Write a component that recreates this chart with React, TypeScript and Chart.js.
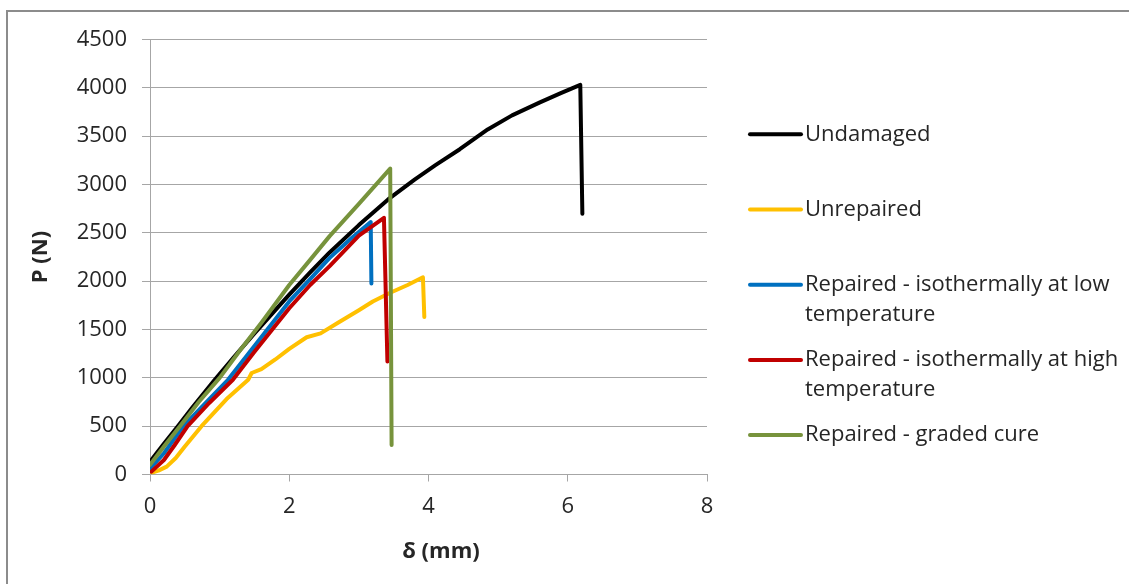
import React, { useEffect, useRef } from "react";
import { Chart, registerables } from "chart.js";

Chart.register(...registerables);

// ---- data (δ in mm, P in N) ----
const seriesLabels = [
  "Undamaged",
  "Unrepaired",
  "Repaired - isothermally at low temperature",
  "Repaired - isothermally at high temperature",
  "Repaired - graded cure",
];
const seriesColors = ["#000000", "#FFC000", "#0070C0", "#C00000", "#77933C"];

const undamagedX = [0, 0.1, 0.2, 0.4, 0.6, 0.93, 1.2, 1.5, 1.8, 2.0, 2.3, 2.58, 3.0, 3.42, 3.8, 4.1, 4.45, 4.85, 5.2, 5.6, 5.9, 6.18, 6.21];
const undamagedP = [130, 225, 318, 500, 685, 980, 1210, 1460, 1700, 1860, 2090, 2297, 2580, 2846, 3050, 3200, 3365, 3570, 3715, 3849, 3945, 4030, 2698];

const unrepairedX = [0.03, 0.12, 0.24, 0.37, 0.5, 0.74, 1.1, 1.41, 1.46, 1.6, 1.8, 2.0, 2.25, 2.45, 2.7, 3.0, 3.2, 3.45, 3.7, 3.92, 3.94];
const unrepairedP = [20, 40, 81, 170, 290, 500, 780, 980, 1050, 1090, 1190, 1300, 1420, 1460, 1570, 1700, 1790, 1880, 1960, 2040, 1630];

const lowTempX = [0, 0.2, 0.48, 0.8, 1.12, 1.5, 2.0, 2.3, 2.58, 2.9, 3.17, 3.18];
const lowTempP = [60, 220, 500, 740, 980, 1330, 1790, 2020, 2241, 2450, 2611, 1975];

const highTempX = [0.02, 0.2, 0.35, 0.54, 0.85, 1.19, 1.5, 2.0, 2.3, 2.58, 3.0, 3.36, 3.41];
const highTempP = [30, 150, 300, 500, 740, 980, 1270, 1720, 1960, 2155, 2470, 2656, 1170];

const gradedX = [0, 0.2, 0.43, 0.7, 1.0, 1.3, 1.6, 2.0, 2.3, 2.58, 3.0, 3.45, 3.47];
const gradedP = [100, 290, 500, 750, 1000, 1290, 1570, 1960, 2220, 2466, 2800, 3165, 306];

const seriesX = [undamagedX, unrepairedX, lowTempX, highTempX, gradedX];
const seriesP = [undamagedP, unrepairedP, lowTempP, highTempP, gradedP];

const xTitle = "δ (mm)";
const yTitle = "P (N)";
const xMin = 0, xMax = 8, xStep = 2;
const yMin = 0, yMax = 4500, yStep = 500;

const FONT = "'Open Sans', 'Liberation Sans', sans-serif";
const TEXT = "#262626";
const GRID = "#a6a6a6";

const legendPlugin = {
  id: "sideLegend",
  afterDraw(chart: any) {
    const ctx = chart.ctx;
    const x0 = 750, x1 = 801, tx = 805, y0 = 134.3, dy = 75.2, lh = 29.7, maxW = 322;
    ctx.save();
    ctx.font = `22px ${FONT}`;
    ctx.textBaseline = "middle";
    ctx.textAlign = "left";
    chart.data.datasets.forEach((ds: any, i: number) => {
      const y = y0 + i * dy;
      ctx.strokeStyle = ds.borderColor;
      ctx.lineWidth = 4;
      ctx.lineCap = "round";
      ctx.beginPath();
      ctx.moveTo(x0, y);
      ctx.lineTo(x1, y);
      ctx.stroke();
      const words = String(ds.label).split(" ");
      const lines: string[] = [];
      let cur = "";
      words.forEach((w) => {
        const t = cur ? cur + " " + w : w;
        if (ctx.measureText(t).width > maxW && cur) {
          lines.push(cur);
          cur = w;
        } else cur = t;
      });
      if (cur) lines.push(cur);
      ctx.fillStyle = TEXT;
      lines.forEach((l, k) => ctx.fillText(l, tx, y + k * lh));
    });
    // x-axis title (offset to the right as in the original)
    ctx.font = `bold 22px ${FONT}`;
    ctx.textAlign = "center";
    ctx.fillText(xTitle, 441, 551.7);
    ctx.restore();
  },
};

export default function App() {
  const ref = useRef<HTMLCanvasElement>(null);
  useEffect(() => {
    if (!ref.current) return;
    const datasets = seriesLabels.map((label, i) => ({
      label,
      data: seriesX[i].map((x, k) => ({ x, y: seriesP[i][k] })),
      borderColor: seriesColors[i],
      backgroundColor: seriesColors[i],
      borderWidth: 4,
      pointRadius: 0,
      tension: 0,
      fill: false,
      borderCapStyle: "round" as const,
      borderJoinStyle: "round" as const,
      order: seriesLabels.length - 1 - i,
    }));
    const chart = new Chart(ref.current, {
      type: "line",
      data: { datasets },
      options: {
        animation: false,
        responsive: true,
        maintainAspectRatio: false,
        layout: { padding: { left: 0, top: 39.5, right: 422, bottom: 0 } },
        plugins: { legend: { display: false }, tooltip: { enabled: false } },
        scales: {
          x: {
            type: "linear",
            min: xMin,
            max: xMax,
            ticks: { stepSize: xStep, color: TEXT, font: { family: FONT, size: 22 }, padding: 12, callback: (v: any) => String(v) },
            grid: { drawOnChartArea: false, drawTicks: true, tickLength: 7, color: GRID },
            border: { color: GRID, width: 1 },
            title: { display: false, text: xTitle },
            afterFit: (s: any) => { s.height = 109.5; },
          },
          y: {
            type: "linear",
            min: yMin,
            max: yMax,
            ticks: { stepSize: yStep, color: TEXT, font: { family: FONT, size: 22 }, padding: 15, callback: (v: any) => String(v) },
            grid: { drawTicks: true, tickLength: 8, color: GRID },
            border: { color: GRID, width: 1 },
            title: { display: true, text: yTitle, color: TEXT, font: { family: FONT, size: 22, weight: "bold" }, padding: { top: 28, bottom: 0 } },
            afterFit: (s: any) => { s.width = 150; },
          },
        },
      },
      plugins: [legendPlugin],
    });
    return () => chart.destroy();
  }, []);

  return (
    <div style={{ position: "fixed", left: 0, top: 0, width: 1129, height: 584, overflow: "hidden", background: "#fff" }}>
      <div style={{ position: "absolute", left: 6, top: 10, width: 1300, height: 800, border: "2px solid #8c8c8c" }} />
      <div style={{ position: "absolute", left: 0, top: 0, width: 1129, height: 584 }}>
        <canvas ref={ref} />
      </div>
    </div>
  );
}
